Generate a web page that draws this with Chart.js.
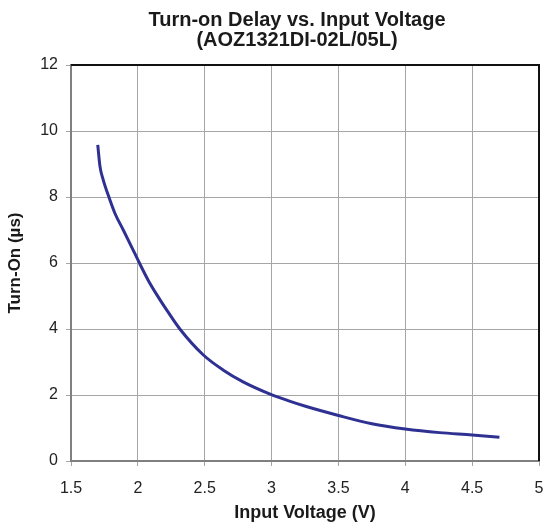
<!DOCTYPE html>
<html>
<head>
<meta charset="utf-8">
<script src="https://cdn.jsdelivr.net/npm/chart.js@4/dist/chart.umd.min.js"></script>
<style>
  html, body { margin: 0; padding: 0; background: #ffffff; }
  #wrap { width: 544px; height: 525px; }
</style>
</head>
<body>
<div id="wrap"><canvas id="c" width="544" height="525"></canvas></div>
<script>
// ---- data ----
const titleLines = ["Turn-on Delay vs. Input Voltage", "(AOZ1321DI-02L/05L)"];
const xTitle = "Input Voltage (V)";
const yTitle = "Turn-On (\u00B5s)";
const voltage = [1.70, 1.717, 1.741, 1.784, 1.829, 1.891, 1.953, 2.008, 2.077, 2.14, 2.215, 2.314, 2.488, 2.637, 2.787, 2.994, 3.123, 3.26, 3.50, 3.75, 4.00, 4.256, 4.50, 4.704];
const turnOn  = [9.58, 8.92, 8.52, 7.99, 7.50, 7.00, 6.49, 6.03, 5.48, 5.05, 4.58, 4.00, 3.22, 2.76, 2.40, 2.02, 1.83, 1.65, 1.38, 1.13, 0.97, 0.86, 0.79, 0.72];
const xMin = 1.5, xMax = 5, xStep = 0.5;
const yMin = 0, yMax = 12, yStep = 2;

const points = voltage.map((v, i) => ({ x: v, y: turnOn[i] }));

const FONT = "'Liberation Sans', Arial, Helvetica, sans-serif";

const frame = {
  id: 'frame',
  afterDraw(chart) {
    const { ctx, chartArea: a } = chart;
    ctx.save();
    // top & right borders (black)
    ctx.strokeStyle = '#111111';
    ctx.lineWidth = 2;
    ctx.beginPath();
    ctx.moveTo(a.left, a.top);
    ctx.lineTo(a.right, a.top);
    ctx.lineTo(a.right, a.bottom);
    ctx.stroke();
    // title
    ctx.fillStyle = '#1a1a1a';
    ctx.font = "bold 20px " + FONT;
    ctx.textAlign = 'center';
    ctx.textBaseline = 'middle';
    ctx.fillText(titleLines[0], 297, 20);
    ctx.fillText(titleLines[1], 297, 40);
    ctx.restore();
  }
};

new Chart(document.getElementById('c'), {
  type: 'scatter',
  data: {
    datasets: [{
      data: points,
      showLine: true,
      borderColor: '#2e3192',
      backgroundColor: '#2e3192',
      borderWidth: 3,
      pointRadius: 0,
      cubicInterpolationMode: 'monotone',
      fill: false
    }]
  },
  options: {
    responsive: false,
    animation: false,
    devicePixelRatio: 1,
    layout: { padding: { top: 65, right: 5, left: 0, bottom: 0 } },
    plugins: {
      legend: { display: false },
      tooltip: { enabled: false },
      title: { display: false }
    },
    scales: {
      x: {
        type: 'linear',
        min: xMin, max: xMax,
        afterFit: s => { s.height = 64; s.paddingRight = 5; s.paddingLeft = 0; },
        ticks: {
          stepSize: xStep,
          color: '#222222',
          font: { family: FONT, size: 16 },
          padding: 13,
          callback: v => String(v)
        },
        grid: { color: '#a6a6a6', lineWidth: 1, tickLength: 5, drawTicks: true },
        border: { color: '#808080', width: 2 },
        title: {
          display: true, text: xTitle, color: '#1a1a1a',
          font: { family: FONT, size: 18, weight: 'bold' },
          padding: { top: 0, bottom: 1 }
        }
      },
      y: {
        type: 'linear',
        min: yMin, max: yMax,
        afterFit: s => { s.width = 71; },
        ticks: {
          stepSize: yStep,
          color: '#222222',
          font: { family: FONT, size: 16 },
          padding: 8
        },
        grid: { color: '#a6a6a6', lineWidth: 1, tickLength: 5, drawTicks: true },
        border: { color: '#808080', width: 2 },
        title: {
          display: true, text: yTitle, color: '#1a1a1a',
          font: { family: FONT, size: 17, weight: 'bold' },
          padding: { top: 5, bottom: 0 }
        }
      }
    }
  },
  plugins: [frame]
});
</script>
</body>
</html>
